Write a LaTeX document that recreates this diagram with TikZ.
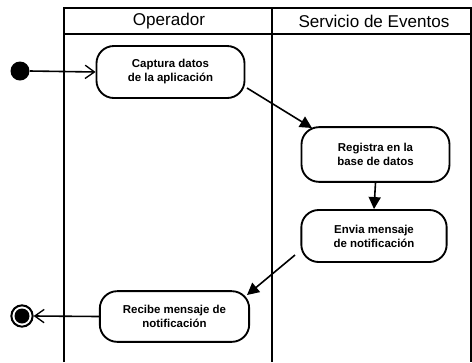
\documentclass[tikz,border=0pt]{standalone}
\usepackage{fontspec}
\setmainfont{Liberation Sans}
\usetikzlibrary{arrows.meta}
\begin{document}
\begin{tikzpicture}[x=0.75pt,y=-0.75pt,
  act/.style={draw,line width=1.4pt,rounded corners=13pt,align=center,font=\fontsize{8.6}{10.5}\selectfont\bfseries,inner sep=0pt},
  lane/.style={draw,line width=0.9pt},
  flow/.style={line width=1.2pt,-{Triangle[length=9pt,width=9pt]}},
  open/.style={line width=1.2pt,-{Straight Barb[length=7pt,width=10pt,line width=1pt]}},
  hdr/.style={font=\fontsize{12.8}{14}\selectfont}]
\useasboundingbox (0,0) rectangle (472,362);
% swimlanes
\draw[lane] (64,362) -- (64,8) -- (471,8) -- (471,362);
\draw[lane] (64,34) -- (471,34);
\draw[lane] (272,8) -- (272,362);
\node[hdr] (h1) at (169,21) {Operador};
\node[hdr] (h2) at (374,21) {Servicio de Eventos};
% nodes
\fill (20,71) circle (9.5);
\node[circle,minimum size=19pt*0.75,inner sep=0pt] (s) at (20,71) {};
\node[act,minimum width=111pt,minimum height=39pt] (a1) at (170.5,72) {Captura datos\\de la aplicación};
\node[act,minimum width=111pt,minimum height=41pt] (a2) at (375.5,154.5) {Registra en la\\base de datos};
\node[act,minimum width=109pt,minimum height=39pt] (a3) at (374,236) {Envia mensaje\\de notificación};
\node[act,minimum width=112pt,minimum height=38pt] (a4) at (174.5,316.5) {Recibe mensaje de\\notificación};
\node[circle,draw,line width=1.5pt,minimum size=16pt,inner sep=0pt] (e) at (22,316) {};
\fill (22,316) circle (7.5);
% connectors
\draw[open] (s.east) -- (a1.west);
\draw[flow] (247,88) -- (312,128);
\draw[flow] (a2.south) -- (a3.north);
\draw[flow] (295,255) -- (247,295);
\draw[open] (a4.west) -- (e.east);
\end{tikzpicture}
\end{document}
